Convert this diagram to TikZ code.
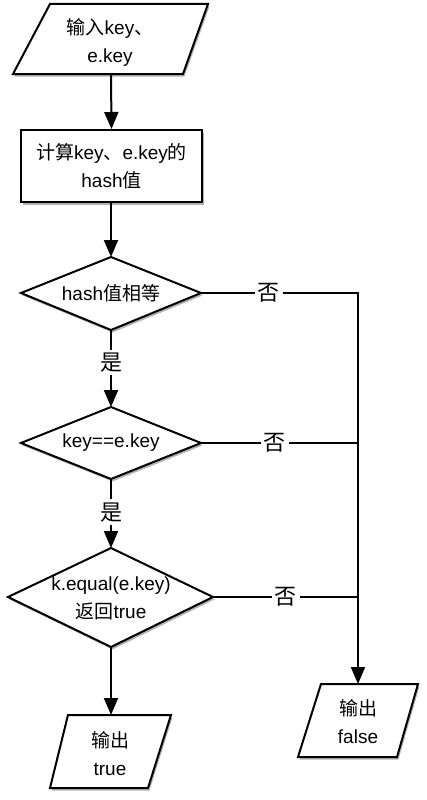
\documentclass[tikz,border=0pt]{standalone}
\usepackage{fontspec}
\setmainfont{Liberation Sans}
\newfontfamily\cjk{Noto Sans CJK SC}
\usetikzlibrary{arrows.meta,shadows}
\begin{document}
\begin{tikzpicture}[x=1pt,y=-1pt,
  blk/.style={draw=black,line width=2pt,fill=white,line join=miter,
    drop shadow={shadow xshift=1.5pt,shadow yshift=-2.5pt,opacity=0.3,fill=black}},
  txt/.style={inner sep=0pt,align=center,font=\fontsize{19}{28}\selectfont},
  lbl/.style={fill=white,inner sep=3pt,font=\fontsize{22}{26}\selectfont\cjk},
  conn/.style={line width=2pt},
  arr/.style={conn,-{Triangle[length=17pt,width=14pt]}}
]
\useasboundingbox (0,0) rectangle (426,800);
% coordinates
\coordinate (inB) at (111,74);
\coordinate (d1t) at (111,257);
\coordinate (d1r) at (201,293);
\coordinate (d1b) at (111,330);
\coordinate (d1l) at (21,293);
\coordinate (d2t) at (111,407);
\coordinate (d2r) at (201,443);
\coordinate (d2b) at (111,479);
\coordinate (d2l) at (21,443);
\coordinate (d3t) at (111,548);
\coordinate (d3r) at (213,597);
\coordinate (d3b) at (111,647);
\coordinate (d3l) at (8,597);
\coordinate (ot) at (111,715);
\coordinate (j1) at (358,293);
\coordinate (j2) at (358,443);
\coordinate (j3) at (358,597);
\coordinate (ft) at (358,684);
% input
\draw[blk] (50,4) -- (208,4) -- (183,74) -- (13,74) -- cycle;
\node[txt] (in) at (110,42) {{\cjk 输入}key{\cjk 、}\\e.key};
% calc box
\node[blk,txt,minimum width=181pt,minimum height=72pt] (calc) at (111.5,166)
  {{\cjk 计算}key{\cjk 、}e.key{\cjk 的}\\hash{\cjk 值}};
% diamonds
\draw[blk] (d1t) -- (d1r) -- (d1b) -- (d1l) -- cycle;
\node[txt] (q1) at (111,293) {hash{\cjk 值相等}};
\draw[blk] (d2t) -- (d2r) -- (d2b) -- (d2l) -- cycle;
\node[txt] (q2) at (111,443) {key==e.key};
\draw[blk] (d3t) -- (d3r) -- (d3b) -- (d3l) -- cycle;
\node[txt] (q3) at (111,598) {k.equal(e.key)\\{\cjk 返回}true};
% outputs
\draw[blk] (68,715) -- (171,715) -- (148,788) -- (50,788) -- cycle;
\node[txt] (otrue) at (110,754) {{\cjk 输出}\\true};
\draw[blk] (321,684) -- (418,684) -- (397,757) -- (298,757) -- cycle;
\node[txt] (ofalse) at (358,722) {{\cjk 输出}\\false};
% connectors
\draw[arr] (inB) -- (calc.south |- calc.north);
\draw[arr] (calc.south -| d1t) -- (d1t);
\draw[arr] (d1b) -- node[lbl,pos=0.42] (yes1) {是} (d2t);
\draw[arr] (d2b) -- node[lbl,pos=0.48] (yes2) {是} (d3t);
\draw[arr] (d3b) -- (ot);
\draw[arr] (d1r) -- node[lbl,pos=0.43] (no1) {否} (j1) -- (ft);
\draw[conn] (d2r) -- node[lbl,pos=0.47] (no2) {否} (j2);
\draw[conn] (d3r) -- node[lbl,pos=0.5] (no3) {否} (j3);
\end{tikzpicture}
\end{document}
